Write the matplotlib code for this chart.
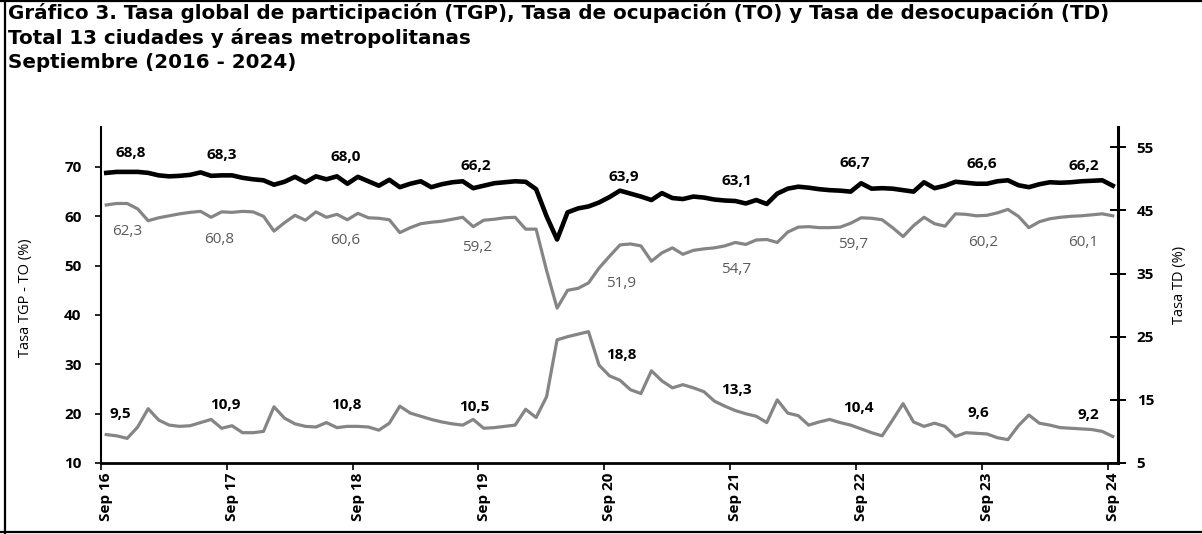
import numpy as np
import matplotlib
matplotlib.use('Agg')
import matplotlib.pyplot as plt
from matplotlib.lines import Line2D

plt.rcParams['font.family'] = ['Open Sans', 'DejaVu Sans']

# monthly series, Sep 2016 .. Sep 2024 (97 points)
tgp = [68.8, 69.0, 69.0, 69.0, 68.8, 68.3, 68.1, 68.2, 68.4, 68.9, 68.2, 68.3,
       68.3, 67.8, 67.5, 67.3, 66.4, 67.0, 68.0, 66.9, 68.1, 67.5, 68.1, 66.6,
       68.0, 67.1, 66.2, 67.4, 65.9, 66.6, 67.1, 65.9, 66.5,
       66.9, 67.1, 65.7, 66.2, 66.7, 66.9, 67.1, 67.0, 65.5, 60.0, 55.3, 60.8,
       61.6, 62.0, 62.8, 63.9, 65.2, 64.6, 64.0, 63.3, 64.7, 63.7, 63.5, 64.0,
       63.8, 63.4, 63.2, 63.1, 62.6, 63.3, 62.5, 64.6,
       65.6, 66.0, 65.8, 65.5, 65.3, 65.2, 65.0, 66.7, 65.6, 65.7, 65.6, 65.3,
       65.0, 66.9, 65.7, 66.2, 67.0, 66.8, 66.6, 66.6, 67.1, 67.3, 66.3, 65.9,
       66.5, 66.9, 66.8, 66.9, 67.1, 67.2, 67.3, 66.2]

to = [62.3, 62.6, 62.6, 61.5, 59.1, 59.7, 60.1, 60.5, 60.8, 61.0, 59.8, 60.9,
      60.8, 61.0, 60.9, 60.0, 57.0, 58.7, 60.2, 59.2, 60.9, 59.8, 60.4, 59.3,
      60.6, 59.7, 59.6, 59.3, 56.7, 57.7, 58.5, 58.8, 59.0,
      59.4, 59.8, 57.9, 59.2, 59.4, 59.7, 59.8, 57.4, 57.4, 49.0, 41.4, 45.0,
      45.4, 46.5, 49.5, 51.9, 54.2, 54.4, 54.0, 50.9, 52.6, 53.6, 52.3, 53.1,
      53.4, 53.6, 54.0, 54.7, 54.3, 55.2, 55.3, 54.7,
      56.8, 57.8, 57.9, 57.7, 57.7, 57.8, 58.6, 59.7, 59.6, 59.3, 57.7, 55.9,
      58.1, 59.8, 58.5, 58.0, 60.5, 60.4, 60.1, 60.2, 60.7, 61.4, 60.0, 57.7,
      58.9, 59.5, 59.8, 60.0, 60.1, 60.3, 60.5, 60.1]

td = [9.5, 9.3, 8.9, 10.7, 13.6, 11.8, 11.0, 10.8, 10.9, 11.4, 11.9, 10.5,
      10.9, 9.8, 9.8, 10.0, 13.9, 12.1, 11.2, 10.8, 10.7, 11.4, 10.6, 10.8,
      10.8, 10.7, 10.2, 11.3, 14.0, 12.9, 12.4, 11.9, 11.5,
      11.2, 11.0, 11.9, 10.5, 10.6, 10.8, 11.0, 13.5, 12.2, 15.5, 24.5, 25.0,
      25.4, 25.8, 20.5, 18.8, 18.1, 16.6, 16.0, 19.6, 18.0, 16.9, 17.4, 16.9,
      16.3, 14.8, 14.0, 13.3, 12.8, 12.4, 11.4, 15.0,
      12.9, 12.5, 11.0, 11.5, 11.9, 11.4, 11.0, 10.4, 9.8, 9.3, 11.8, 14.4,
      11.5, 10.8, 11.3, 10.8, 9.2, 9.8, 9.7, 9.6, 9.0, 8.7, 10.9, 12.6,
      11.3, 11.0, 10.6, 10.5, 10.4, 10.3, 10.0, 9.2]

tick_labels = ['Sep 16', 'Sep 17', 'Sep 18', 'Sep 19', 'Sep 20',
               'Sep 21', 'Sep 22', 'Sep 23', 'Sep 24']

W, H = 1202, 534
fig = plt.figure(figsize=(W / 100, H / 100), dpi=100)
ax = fig.add_axes([101 / W, 1 - 463 / H, (1118 - 101) / W, (463 - 127) / H])
ax2 = ax.twinx()

x = np.arange(len(tgp))
sep = x[::12]

ax.plot(x, to, color='#858585', lw=2.3, zorder=2)
ax.plot(x, tgp, color='black', lw=3.3, zorder=3)
ax2.plot(x, td, color='#858585', lw=2.3)

ax.set_xlim(-0.5, 96.5)
ax.set_ylim(10, 78.1)
ax2.set_ylim(5, 58.2)

ax.set_yticks(range(10, 71, 10))
ax2.set_yticks(range(5, 56, 10))
ax.set_xticks(sep)
ax.set_xticklabels(tick_labels, rotation=90, fontsize=11, fontweight='bold')
ax.set_xticks(sep - 0.5, minor=True)
ax.tick_params(axis='x', which='major', length=0, pad=7)
ax.tick_params(axis='x', which='minor', length=5, width=1.2, direction='out')
ax.tick_params(axis='y', length=4, width=1.2, pad=10, labelsize=11)
ax2.tick_params(axis='y', direction='inout', length=11, width=1.4, pad=8, labelsize=11)
for t in ax.get_yticklabels() + ax2.get_yticklabels():
    t.set_fontweight('bold')

for a in (ax, ax2):
    a.spines['top'].set_visible(False)
ax2.spines['left'].set_visible(False)
ax2.spines['bottom'].set_visible(False)
ax.spines['right'].set_visible(False)
ax.spines['left'].set_linewidth(1.5)
ax.spines['bottom'].set_linewidth(2)
ax2.spines['right'].set_linewidth(2.2)

# value labels at each September
tgp_dx = [24, -10, -12, -8, 14, 1, -6, -5, -29]
to_dx = [21, -13, -13, -7, 12, 1, -8, -4, -30]
td_dx = [14, -7, -12, -9, 12, 1, -3, -9, -24]

def fmt(v):
    return f'{v:.1f}'.replace('.', ',')

for k, i in enumerate(sep):
    ax.annotate(fmt(tgp[i]), (i, tgp[i]), xytext=(tgp_dx[k], 20),
                textcoords='offset pixels', ha='center', va='center',
                fontsize=11, fontweight='bold', color='black')
    ax.annotate(fmt(to[i]), (i, to[i]), xytext=(to_dx[k], -27),
                textcoords='offset pixels', ha='center', va='center',
                fontsize=11, color='#5a5a5a')
    ax2.annotate(fmt(td[i]), (i, td[i]), xytext=(td_dx[k], 21),
                 textcoords='offset pixels', ha='center', va='center',
                 fontsize=11, fontweight='bold', color='black')

fig.text(26 / W, 1 - 298 / H, 'Tasa TGP - TO (%)', rotation=90,
         ha='center', va='center', fontsize=10.5)
fig.text(1179 / W, 1 - 285 / H, 'Tasa TD (%)', rotation=90,
         ha='center', va='center', fontsize=10.5)

titles = ['Gráfico 3. Tasa global de participación (TGP), Tasa de ocupación (TO) y Tasa de desocupación (TD)',
          'Total 13 ciudades y áreas metropolitanas',
          'Septiembre (2016 - 2024)']
for k, t in enumerate(titles):
    fig.text(8 / W, 1 - (13 + 25 * k) / H, t, ha='left', va='center',
             fontsize=14.3, fontweight='bold', family=['DejaVu Sans'])

# outer frame
for xs, ys in [([5 / W, 5 / W], [0, 1]), ([0, 1], [2 / H, 2 / H]),
               ([0, 1], [1 - 1 / H, 1 - 1 / H])]:
    fig.add_artist(Line2D(xs, ys, color='black', lw=1.6))

fig.savefig('out.png', dpi=100)
